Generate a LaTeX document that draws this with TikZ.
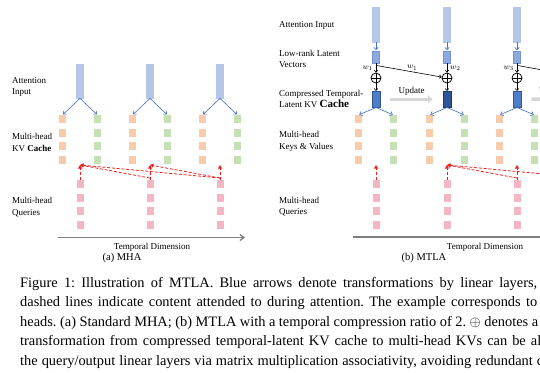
\documentclass[tikz,border=0pt]{standalone}
\usepackage{fontspec}
\setmainfont{Liberation Serif}
\usetikzlibrary{arrows.meta}
\definecolor{barfill}{HTML}{B4C7E7}
\definecolor{latfill}{HTML}{8EA9DB}
\definecolor{latline}{HTML}{7394D2}
\definecolor{cachefill}{HTML}{4F7EC8}
\definecolor{cacheline}{HTML}{2F5597}
\definecolor{cachedark}{HTML}{2F5597}
\definecolor{cachedarkline}{HTML}{1F3864}
\definecolor{arrblue}{HTML}{4472C4}
\definecolor{korange}{HTML}{F8CBAD}
\definecolor{vgreen}{HTML}{C5E0B4}
\definecolor{qpink}{HTML}{F4B6C2}
\definecolor{attnred}{HTML}{F01E1E}
\definecolor{axisgray}{HTML}{7F7F7F}
\definecolor{updgray}{HTML}{D6D6D6}
\begin{document}
\frenchspacing
\begin{tikzpicture}[x=1pt,y=-1pt,
  inbar/.style={rectangle, fill=barfill, draw=barfill, line width=0.4pt, minimum width=7pt, inner sep=0pt, anchor=north},
  latent/.style={rectangle, fill=latfill, draw=latline, line width=0.4pt, minimum width=7pt, minimum height=12pt, inner sep=0pt, anchor=north},
  cachebox/.style={rectangle, fill=cachefill, draw=cacheline, line width=0.5pt, minimum width=8pt, minimum height=16pt, inner sep=0pt, anchor=north},
  cachedk/.style={cachebox, fill=cachedark, draw=cachedarkline},
  sq/.style={rectangle, minimum width=7pt, minimum height=8pt, inner sep=0pt, anchor=north},
  kbox/.style={sq, fill=korange},
  vbox/.style={sq, fill=vgreen},
  qbox/.style={sq, fill=qpink},
  oplus/.style={circle, draw=black, line width=0.75pt, minimum size=10pt, inner sep=0pt,
    path picture={\draw[line width=0.75pt] (path picture bounding box.north) -- (path picture bounding box.south)
      (path picture bounding box.west) -- (path picture bounding box.east);}},
  blarrow/.style={draw=arrblue, line width=0.6pt, -{Straight Barb[length=2.5pt,width=4.5pt]}, shorten >=0.8pt},
  blkarrow/.style={draw=black, line width=0.6pt, -{Straight Barb[length=2pt,width=3.5pt]}},
  attn/.style={draw=attnred, line width=0.8pt, dash pattern=on 3pt off 1.8pt, -{Triangle[length=3.5pt,width=3.8pt]}},
  axisline/.style={draw=axisgray, line width=1.3pt, -{Straight Barb[length=4pt,width=6pt]}},
  updarrow/.style={draw=updgray, line width=3.5pt, -{Triangle[length=5pt,width=8pt]}},
  lbl/.style={font=\fontsize{9}{11.5}\selectfont, align=left, inner sep=0pt, anchor=west},
  dimlbl/.style={font=\fontsize{9}{11}\selectfont, inner sep=0pt},
  sublbl/.style={font=\fontsize{10.5}{12}\selectfont, inner sep=0pt},
  wlbl/.style={font=\fontsize{8.5}{9}\selectfont, inner sep=0pt},
  captxt/.style={font=\fontsize{14.4}{19.4}\selectfont, inner sep=0pt, anchor=base west}
]
\useasboundingbox (0,0) rectangle (540,372);
\clip (0,0) rectangle (540,372);
\fill[white] (0,0) rectangle (540,372);

% ---------- Panel (a) MHA ----------
\node[lbl] (la1) at (12,87) {Attention\\Input};
\node[lbl] (la2) at (12,142.5) {Multi-head\\KV \textbf{Cache}};
\node[lbl] (la3) at (12,207) {Multi-head\\Queries};

\foreach \i/\x in {1/80,2/150,3/220} {
  \node[inbar, minimum height=34pt] (ain\i) at (\x,64) {};
  \foreach \r/\y in {1/115,2/128.5,3/142,4/155.5} {
    \node[kbox] (ak\i\r) at (\x-17.5,\y) {};
    \node[vbox] (av\i\r) at (\x+17.5,\y) {};
  }
  \foreach \r/\y in {1/180,2/193.5,3/207,4/220.5} {
    \node[qbox] (aq\i\r) at (\x,\y) {};
  }
  \draw[blarrow] (ain\i.south) -- (ak\i1.north);
  \draw[blarrow] (ain\i.south) -- (av\i1.north);
  \coordinate (at\i) at (\x,165);
  \draw[attn] (aq\i1.north) -- (at\i);
}
\draw[attn] ([yshift=2pt]aq21.north) -- (at1);
\draw[attn] ([yshift=2pt]aq31.north) -- (at1);
\draw[attn] ([yshift=2pt]aq31.north) -- (at2);

\coordinate (aax0) at (58,237.5);
\coordinate (aax1) at (245,237.5);
\draw[axisline] (aax0) -- (aax1);
\node[dimlbl] (atd) at (152,247) {Temporal Dimension};
\node[sublbl] (asub) at (122,258) {(a) MHA};

% ---------- Panel (b) MTLA ----------
\node[lbl] (lb1) at (279,25) {Attention Input};
\node[lbl] (lb2) at (279,59) {Low-rank Latent\\Vectors};
\node[lbl] (lb3) at (279,99) {Compressed Temporal-\\Latent KV {\fontsize{11}{11}\selectfont\bfseries Cache}};
\node[lbl] (lb4) at (279,141.5) {Multi-head\\Keys \& Values};
\node[lbl] (lb5) at (279,206.5) {Multi-head\\Queries};

\foreach \i/\x in {1/376,2/447,3/517} {
  \node[inbar, minimum height=35pt] (bin\i) at (\x,7) {};
  \node[latent] (blat\i) at (\x,51) {};
  \node[oplus] (bop\i) at (\x,78) {};
  \foreach \r/\y in {1/115,2/128.5,3/142,4/155.5} {
    \node[kbox] (bk\i\r) at (\x-17.5,\y) {};
    \node[vbox] (bv\i\r) at (\x+17.5,\y) {};
  }
  \foreach \r/\y in {1/180,2/193.5,3/207,4/220.5} {
    \node[qbox] (bq\i\r) at (\x,\y) {};
  }
  \coordinate (bt\i) at (\x,165);
  \draw[attn] (bq\i1.north) -- (bt\i);
}
\node[cachebox] (bc1) at (376,91) {};
\node[cachedk] (bc2) at (447,91) {};
\node[cachebox] (bc3) at (517,91) {};

\foreach \i in {1,2,3} {
  \draw[blarrow] (bin\i.south) -- (blat\i.north);
  \draw[blkarrow] (blat\i.south) -- (bop\i.north);
  \draw[blkarrow] (bop\i.south) -- (bc\i.north);
  \draw[blarrow] (bc\i.south) -- (bk\i1.north);
  \draw[blarrow] (bc\i.south) -- (bv\i1.north);
}
\node[wlbl, anchor=east] (w1) at (373,68) {$w_1$};
\node[wlbl, anchor=west] (w2) at (450,68) {$w_2$};
\node[wlbl, anchor=east] (w3) at (514,68) {$w_3$};

\draw[blkarrow] ([yshift=-2pt]blat1.south) -- (bop2) node[wlbl, pos=0.55, above=1.5pt] {$w_1$};
\coordinate (bop4) at (587,78);
\draw[blkarrow] ([yshift=-2pt]blat3.south) -- (bop4);

\draw[updarrow] ([xshift=10pt]bc1.east) -- ([xshift=-10pt]bc2.west)
  node[midway, above=2pt, dimlbl] {Update};
\coordinate (bc4w) at (583,99);
\draw[updarrow] ([xshift=10pt]bc3.east) -- ([xshift=-10pt]bc4w)
  node[midway, above=2pt, dimlbl] {Update};

\coordinate (bq4top) at (587,178);
\draw[attn] ([yshift=2pt]bq31.north) -- (bt2);
\draw[attn] (bq4top) -- (bt2);

\coordinate (bax0) at (353,237);
\coordinate (bax1) at (625,237);
\draw[axisline] (bax0) -- (bax1);
\node[dimlbl] (btd) at (485,247) {Temporal Dimension};
\node[sublbl] (bsub) at (424,258) {(b) MTLA};

% ---------- Caption (justified lines, cut at the right edge) ----------
\node[captxt] (cap1) at (20,287) {\hbox to 517pt{Figure 1: Illustration of MTLA. Blue arrows denote transformations by linear layers,}};
\node[captxt] (cap2) at (20,306.5) {\hbox to 517pt{dashed lines indicate content attended to during attention. The example corresponds to}};
\node[captxt] (cap3) at (20,326) {\hbox to 518pt{heads. (a) Standard MHA; (b) MTLA with a temporal compression ratio of 2. $\oplus$ denotes a}};
\node[captxt] (cap4) at (20,345.5) {\hbox to 521pt{transformation from compressed temporal-latent KV cache to multi-head KVs can be al}};
\node[captxt] (cap5) at (20,365) {\hbox to 523pt{the query/output linear layers via matrix multiplication associativity, avoiding redundant c}};
\end{tikzpicture}
\end{document}
